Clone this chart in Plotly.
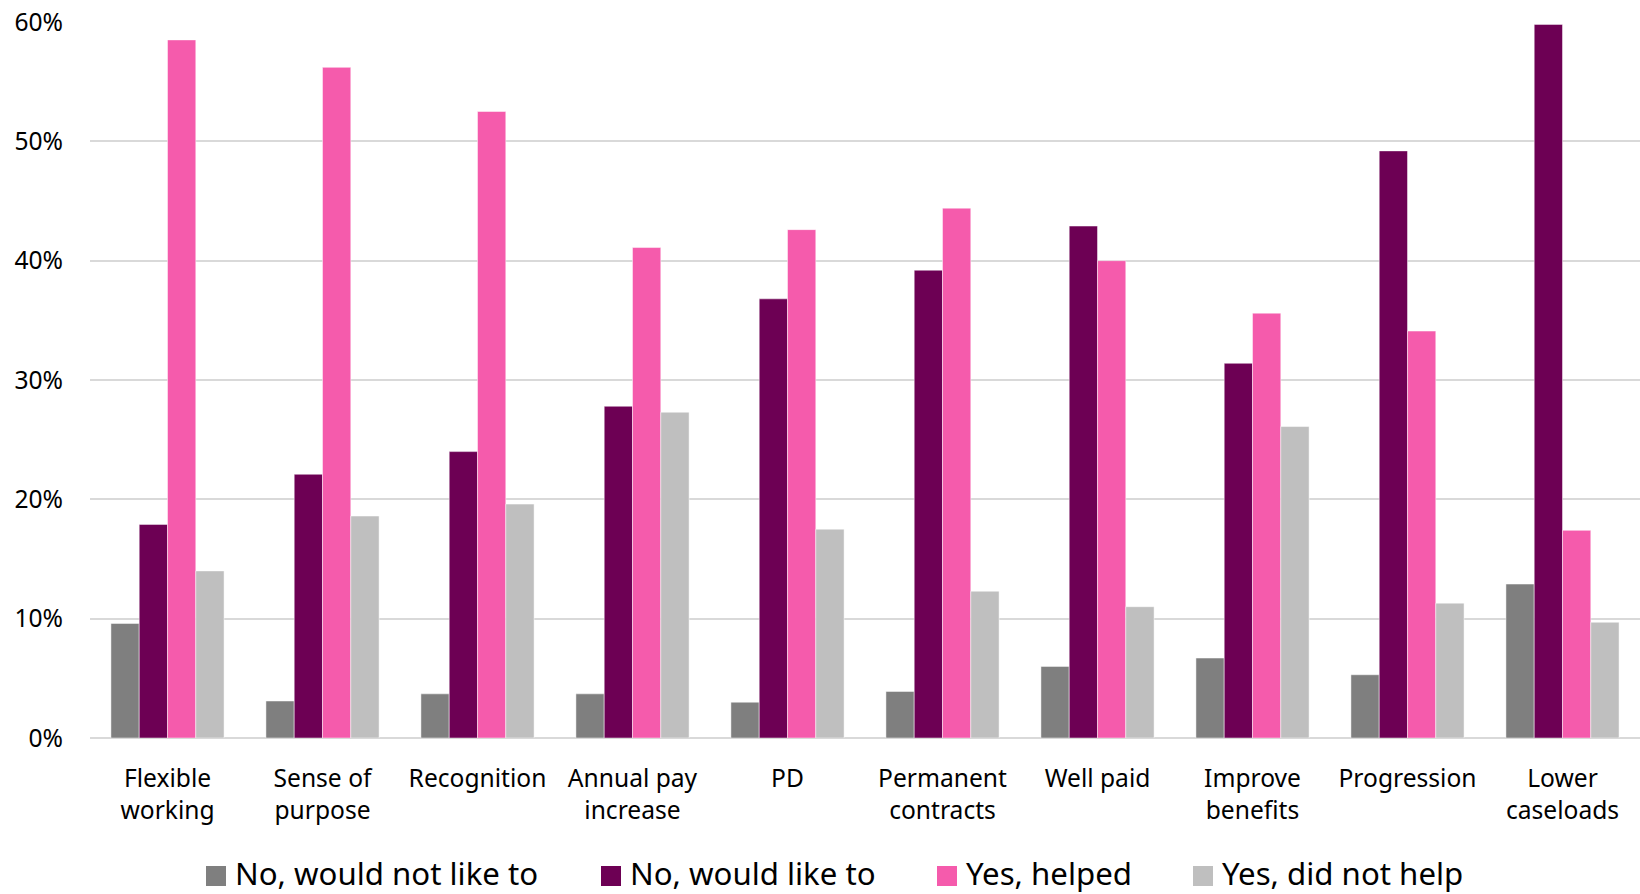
import plotly.graph_objects as go

categories = ["Flexible<br>working", "Sense of<br>purpose", "Recognition", "Annual pay<br>increase", "PD",
              "Permanent<br>contracts", "Well paid", "Improve<br>benefits", "Progression", "Lower<br>caseloads"]

no_would_not_like = [9.6, 3.1, 3.7, 3.7, 3.0, 3.9, 6.0, 6.7, 5.3, 12.9]
no_would_like = [17.9, 22.1, 24.0, 27.8, 36.8, 39.2, 42.9, 31.4, 49.2, 59.8]
yes_helped = [58.5, 56.2, 52.5, 41.1, 42.6, 44.4, 40.0, 35.6, 34.1, 17.4]
yes_did_not_help = [14.0, 18.6, 19.6, 27.3, 17.5, 12.3, 11.0, 26.1, 11.3, 9.7]

series_names = ["No, would not like to", "No, would like to", "Yes, helped", "Yes, did not help"]
series_values = [no_would_not_like, no_would_like, yes_helped, yes_did_not_help]
series_colors = ["#7F7F7F", "#6D0054", "#F55BAC", "#BFBFBF"]

# legend layout (pixel positions of the legend swatches)
legend_swatch_px = [206, 601, 937, 1193]
SW = 20            # swatch size, px
LEG_CY = 876.0     # swatch vertical centre, px
LEG_TY = 872.5     # legend text vertical centre, px

W, H = 1640, 894
ML, MR, MT, MB = 90, 0, 22, 156
PW, PH = W - ML - MR, H - MT - MB
FONT = "Noto Sans"


def px_to_paper_x(px):
    return (px - ML) / PW


def px_to_paper_y(py):
    return (H - MB - py) / PH


fig = go.Figure()
for name, vals, color in zip(series_names, series_values, series_colors):
    fig.add_trace(go.Bar(
        x=categories, y=[v / 100 for v in vals], name=name, showlegend=False,
        marker=dict(color=color, line=dict(color="rgba(255,255,255,0.6)", width=0.8)),
        hoverinfo="skip",
    ))

shapes, annotations = [], []
for name, color, sx in zip(series_names, series_colors, legend_swatch_px):
    shapes.append(dict(
        type="rect", xref="paper", yref="paper",
        x0=px_to_paper_x(sx), x1=px_to_paper_x(sx + SW),
        y0=px_to_paper_y(LEG_CY - SW / 2), y1=px_to_paper_y(LEG_CY + SW / 2),
        fillcolor=color, line=dict(width=0), layer="above",
    ))
    annotations.append(dict(
        text=name, xref="paper", yref="paper",
        x=px_to_paper_x(sx + SW + 8), y=px_to_paper_y(LEG_TY),
        xanchor="left", yanchor="middle", showarrow=False,
        font=dict(family=FONT, size=31.2, color="#000000"),
        borderpad=0,
    ))

fig.update_layout(
    width=W, height=H,
    margin=dict(l=ML, r=MR, t=MT, b=MB),
    paper_bgcolor="white", plot_bgcolor="white",
    barmode="group", bargap=0.27, bargroupgap=0,
    font=dict(family=FONT, size=24.6, color="#000000"),
    showlegend=False,
    shapes=shapes, annotations=annotations,
)
fig.update_yaxes(range=[0, 0.6], dtick=0.1, tickformat=".0%", showgrid=True,
                 gridcolor="#D9D9D9", gridwidth=1.5, zeroline=True, zerolinecolor="#D9D9D9",
                 zerolinewidth=1.5, showline=False, ticklabelstandoff=26, fixedrange=True,
                 automargin=False)
fig.update_xaxes(showgrid=False, showline=False, ticks="", ticklabelstandoff=23, fixedrange=True,
                 tickangle=0, automargin=False)

fig.write_html("out.html", config={"displayModeBar": False})
